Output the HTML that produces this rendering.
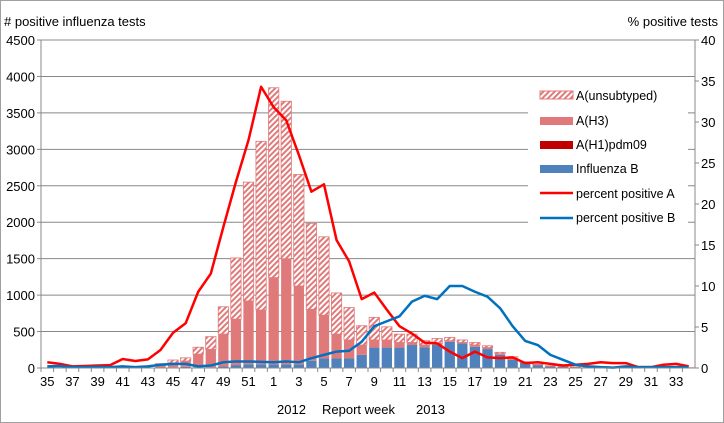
<!DOCTYPE html>
<html><head><meta charset="utf-8"><style>
html,body{margin:0;padding:0;background:#fff}
svg{display:block;font-family:"Liberation Sans",Arial,sans-serif}
</style></head><body>
<svg id="chart" width="724" height="423" viewBox="0 0 724 423">
<defs>
<pattern id="hatch" patternUnits="userSpaceOnUse" width="4" height="4" patternTransform="rotate(45)">
<rect width="4" height="4" fill="#fff"/><rect width="2" height="4" fill="#e07a7a"/>
</pattern>
</defs>
<rect x="0.5" y="0.5" width="723" height="422" fill="#fff" stroke="#a0a0a0"/>
<g id="grid"></g>
<g id="bars"></g>
<g id="lines"></g>
<g id="axes"></g>
<text x="4" y="26" font-size="13" fill="#000"># positive influenza tests</text>
<text x="718" y="26" font-size="13" text-anchor="end" fill="#000">% positive tests</text>
<text x="277" y="414" font-size="13">2012</text>
<text x="322" y="414" font-size="13">Report  week</text>
<text x="416" y="414" font-size="13">2013</text>
<g id="legend">
<rect x="528" y="82" width="160" height="148" fill="#fff"/>
<rect x="540" y="91" width="33" height="8" fill="url(#hatch)" stroke="#e07a7a" stroke-width="1"/>
<text x="576" y="100" font-size="12.5">A(unsubtyped)</text>
<rect x="540" y="117" width="33" height="8" fill="#e07a7a"/>
<text x="576" y="125" font-size="12.5">A(H3)</text>
<rect x="540" y="141" width="33" height="8" fill="#c00000"/>
<text x="576" y="149" font-size="12.5">A(H1)pdm09</text>
<rect x="540" y="165" width="33" height="8" fill="#4f81bd"/>
<text x="576" y="173" font-size="12.5">Influenza B</text>
<line x1="540" y1="193" x2="573" y2="193" stroke="#ff0000" stroke-width="2.5"/>
<text x="576" y="198" font-size="12.5">percent positive A</text>
<line x1="540" y1="218" x2="573" y2="218" stroke="#0070c0" stroke-width="2.5"/>
<text x="576" y="222" font-size="12.5">percent positive B</text>
</g>
</svg>
<script>
const weeks = [35,36,37,38,39,40,41,42,43,44,45,46,47,48,49,50,51,52,1,2,3,4,5,6,7,8,9,10,11,12,13,14,15,16,17,18,19,20,21,22,23,24,25,26,27,28,29,30,31,32,33,34];
const fluB = [0,0,0,0,0,0,0,0,0,5,10,15,10,10,20,40,50,50,50,50,50,100,130,130,130,180,280,280,280,315,285,315,360,340,290,260,180,110,70,40,20,15,10,5,3,2,2,2,2,2,2,2];
const h3 = [0,0,0,0,0,0,0,0,0,30,60,80,180,245,445,630,870,745,1190,1450,1075,705,595,335,255,135,105,105,70,35,30,25,15,10,25,20,15,15,5,5,5,3,2,0,0,0,0,0,0,0,0,0];
const unsub = [0,0,0,0,0,0,0,0,0,25,40,45,95,175,375,840,1630,2315,2605,2160,1530,1180,1075,565,445,265,310,180,115,115,60,65,45,35,35,25,20,30,10,5,5,2,3,3,2,2,2,2,2,2,2,2];
const pctA = [0.7,0.5,0.2,0.25,0.3,0.35,1.1,0.85,1.05,2.2,4.3,5.45,9.3,11.5,17.2,22.7,27.8,34.3,31.8,30.2,26,21.5,22.4,15.6,13,8.4,9.2,7.1,5.1,4.2,3.1,3.0,2.0,1.2,2.0,1.3,1.2,1.3,0.6,0.7,0.5,0.3,0.4,0.5,0.7,0.6,0.6,0.1,0.1,0.4,0.5,0.2];
const pctB = [0.2,0.25,0.1,0.1,0.15,0.1,0.2,0.1,0.2,0.4,0.5,0.5,0.2,0.3,0.7,0.8,0.8,0.75,0.7,0.8,0.7,1.2,1.6,2.0,2.1,3.2,5.1,5.7,6.3,8.1,8.8,8.4,10.0,10.0,9.3,8.7,7.3,5.1,3.3,2.8,1.6,1.0,0.4,0.2,0.1,0.05,0.2,0.1,0.1,0.1,0.1,0.1];
const leftTicks = [0,500,1000,1500,2000,2500,3000,3500,4000,4500];
const rightTicks = [0,5,10,15,20,25,30,35,40];

const NS = "http://www.w3.org/2000/svg";
const X0 = 41, X1 = 695, Y0 = 368, Y1 = 40;
const slot = (X1 - X0) / weeks.length;
const xC = i => X0 + slot * (i + 0.5);
const yL = v => Y0 - v / 4500 * (Y0 - Y1);
const yR = v => Y0 - v / 40 * (Y0 - Y1);
function mk(tag, attrs, parent) {
  const e = document.createElementNS(NS, tag);
  for (const k in attrs) e.setAttribute(k, attrs[k]);
  parent.appendChild(e); return e;
}
const grid = document.getElementById('grid'), bars = document.getElementById('bars'),
      lines = document.getElementById('lines'), axes = document.getElementById('axes');
leftTicks.forEach(t => {
  const y = yL(t);
  if (t > 0) {
    const g = mk('line', {x1:X0, x2:X1, y1:y, y2:y, stroke:'#888', 'stroke-width':1}, grid);
    
    
  }
  mk('line', {x1:X0-4, x2:X0, y1:y, y2:y, stroke:'#888'}, axes);
  const tx = mk('text', {x:X0-6, y:y+5, 'font-size':13, 'text-anchor':'end'}, axes);
  tx.textContent = t;
  
  
});
rightTicks.forEach(t => {
  const y = yR(t);
  mk('line', {x1:X1, x2:X1+4, y1:y, y2:y, stroke:'#888'}, axes);
  const tx = mk('text', {x:X1+6, y:y+5, 'font-size':13}, axes);
  tx.textContent = t;
  
  
});
mk('line', {x1:X0, x2:X0, y1:Y1, y2:Y0, stroke:'#888'}, axes);
mk('line', {x1:X1, x2:X1, y1:Y1, y2:Y0, stroke:'#888'}, axes);
mk('line', {x1:X0, x2:X1, y1:Y0, y2:Y0, stroke:'#888'}, axes);
weeks.forEach((w, i) => {
  const xs = X0 + slot * i;
  mk('line', {x1:xs, x2:xs, y1:Y0, y2:Y0+4, stroke:'#888'}, axes);
  if (i % 2 === 0) {
    const tx = mk('text', {x:xC(i), y:Y0+18, 'font-size':13, 'text-anchor':'middle'}, axes);
    tx.textContent = w;
    
    
  }
  const bw = slot * 0.82, bx = xC(i) - bw / 2;
  let base = 0;
  [[fluB[i], '#4f81bd', 'none', 'bar-influenza-b'], [h3[i], '#e07a7a', 'none', 'bar-h3'], [unsub[i], 'url(#hatch)', '#e07a7a', 'bar-unsubtyped']].forEach(s => {
    if (s[0] <= 0) return;
    const r = mk('rect', {x:bx, y:yL(base + s[0]), width:bw, height:yL(base) - yL(base + s[0]), fill:s[1], stroke:s[2], 'stroke-width':0.8}, bars);
    
    
    base += s[0];
  });
});
const pa = mk('polyline', {points: pctA.map((v, i) => xC(i) + ',' + yR(v)).join(' '), fill:'none', stroke:'#ff0000', 'stroke-width':2.5, 'stroke-linejoin':'round'}, lines);


const pb = mk('polyline', {points: pctB.map((v, i) => xC(i) + ',' + yR(v)).join(' '), fill:'none', stroke:'#0070c0', 'stroke-width':2.5, 'stroke-linejoin':'round'}, lines);


</script>
</body></html>
